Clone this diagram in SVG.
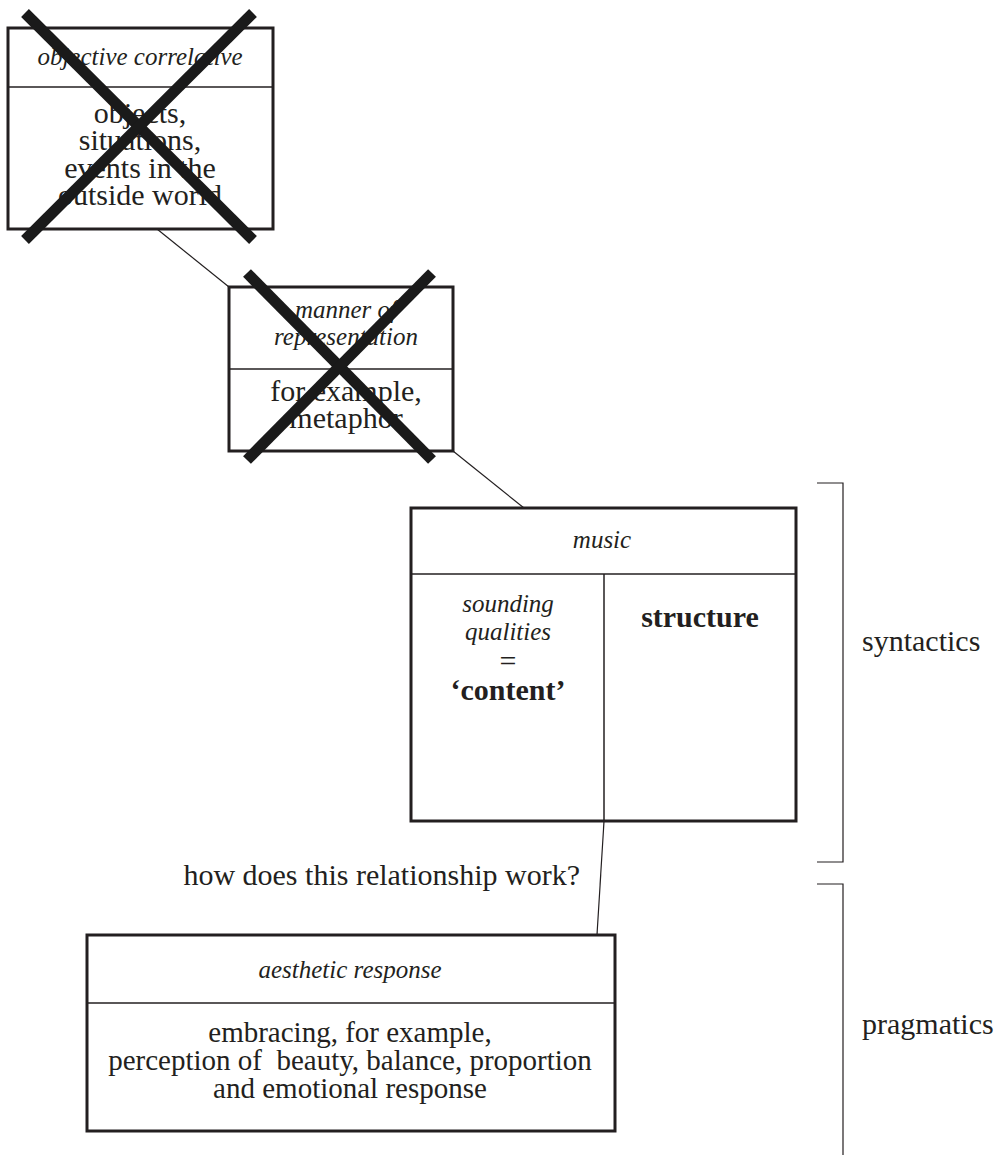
<svg xmlns="http://www.w3.org/2000/svg" width="999" height="1155" viewBox="0 0 999 1155">
  <style>
    .box { fill: #ffffff; stroke: #231f20; stroke-width: 3; }
    .rule { stroke: #231f20; stroke-width: 1.5; fill: none; }
    .link { stroke: #231f20; stroke-width: 1.2; fill: none; }
    .cross { stroke: #1a1a1a; stroke-width: 11; stroke-linecap: butt; }
    .bracket { stroke: #231f20; stroke-width: 1.2; fill: none; }
    text { font-family: "Liberation Serif", "DejaVu Serif", serif; fill: #231f20; }
    .hd { font-size: 25px; font-style: italic; text-anchor: middle; }
    .bd { font-size: 30px; text-anchor: middle; }
    .bd2 { font-size: 29px; text-anchor: middle; }
    .bold { font-size: 30px; font-weight: bold; text-anchor: middle; }
    .lbl { font-size: 30px; }
  </style>

  <!-- connectors between the boxes -->
  <g id="connectors">
    <line class="link" x1="157" y1="229" x2="229" y2="287"/>
    <line class="link" x1="453" y1="451" x2="524" y2="508"/>
    <line class="link" x1="604" y1="821" x2="597" y2="935"/>
  </g>

  <!-- objective correlative (struck out) -->
  <g id="objective-correlative">
    <rect class="box" x="8" y="28" width="265" height="201"/>
    <line class="rule" x1="8" y1="87" x2="273" y2="87"/>
    <text class="hd" x="140" y="65">objective correlative</text>
    <text class="bd" x="140" y="123">objects,</text>
    <text class="bd" x="140" y="150">situations,</text>
    <text class="bd" x="140" y="178">events in the</text>
    <text class="bd" x="140" y="205">outside world</text>
    <line class="cross" x1="25" y1="13" x2="253" y2="240"/>
    <line class="cross" x1="25" y1="240" x2="253" y2="13"/>
  </g>

  <!-- manner of representation (struck out) -->
  <g id="manner-of-representation">
    <rect class="box" x="229" y="287" width="224" height="164"/>
    <line class="rule" x1="229" y1="369" x2="453" y2="369"/>
    <text class="hd" x="346" y="318">manner of</text>
    <text class="hd" x="346" y="345">representation</text>
    <text class="bd" x="346" y="401">for example,</text>
    <text class="bd" x="346" y="428">metaphor</text>
    <line class="cross" x1="247" y1="273" x2="432" y2="460"/>
    <line class="cross" x1="247" y1="460" x2="432" y2="273"/>
  </g>

  <!-- music -->
  <g id="music">
    <rect class="box" x="411" y="508" width="385" height="313"/>
    <line class="rule" x1="411" y1="574" x2="796" y2="574"/>
    <line class="rule" x1="604" y1="574" x2="604" y2="821"/>
    <text class="hd" x="602" y="548">music</text>
    <text class="hd" x="508" y="612">sounding</text>
    <text class="hd" x="508" y="640">qualities</text>
    <text class="bd" x="508" y="671">=</text>
    <text class="bold" x="508" y="700">‘content’</text>
    <text class="bold" x="700" y="627">structure</text>
  </g>

  <!-- question on the music / response link -->
  <g id="question">
    <text class="lbl" x="580" y="885" text-anchor="end">how does this relationship work?</text>
  </g>

  <!-- aesthetic response -->
  <g id="aesthetic-response">
    <rect class="box" x="87" y="935" width="528" height="196"/>
    <line class="rule" x1="87" y1="1003" x2="615" y2="1003"/>
    <text class="hd" x="350" y="978">aesthetic response</text>
    <text class="bd2" x="350" y="1042">embracing, for example,</text>
    <text class="bd2" x="350" y="1070" xml:space="preserve">perception of  beauty, balance, proportion</text>
    <text class="bd2" x="350" y="1098">and emotional response</text>
  </g>

  <!-- side brackets -->
  <g id="syntactics">
    <path class="bracket" d="M817,483 H843 V862 H817"/>
    <text class="lbl" x="862" y="651">syntactics</text>
  </g>
  <g id="pragmatics">
    <path class="bracket" d="M817,884 H843 V1155"/>
    <text class="lbl" x="862" y="1034">pragmatics</text>
  </g>
</svg>
